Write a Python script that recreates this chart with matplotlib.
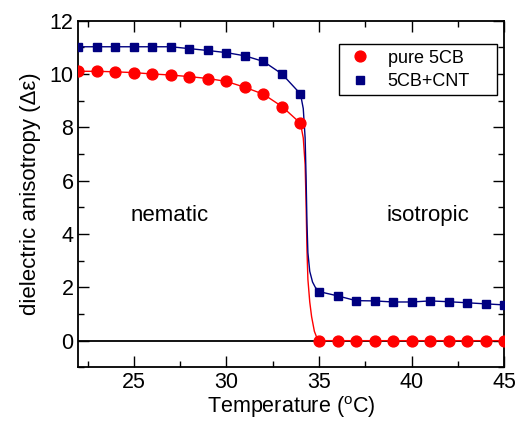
import numpy as np
import matplotlib
matplotlib.use('Agg')
import matplotlib.pyplot as plt

plt.rcParams['font.family'] = ['Liberation Sans', 'DejaVu Sans']
plt.rcParams['mathtext.fontset'] = 'custom'
plt.rcParams['mathtext.rm'] = 'Liberation Sans'

# measured points
temp = [22, 23, 24, 25, 26, 27, 28, 29, 30, 31, 32, 33, 34,
        35, 36, 37, 38, 39, 40, 41, 42, 43, 44, 45]
pure_5cb = [10.1, 10.1, 10.08, 10.05, 10.0, 9.96, 9.9, 9.83, 9.72, 9.5, 9.24, 8.78, 8.15,
            0, 0, 0, 0, 0, 0, 0, 0, 0, 0, 0]
cnt_5cb = [11.02, 11.02, 11.02, 11.02, 11.02, 11.02, 10.95, 10.88, 10.8, 10.68, 10.47, 10.0, 9.25,
           1.84, 1.68, 1.5, 1.49, 1.45, 1.45, 1.49, 1.46, 1.42, 1.38, 1.34]

# fit curve through the transition
fit_t_pure = [34.0, 34.15, 34.25, 34.3, 34.35, 34.4, 34.5, 34.6, 34.75, 34.9, 35.0]
fit_v_pure = [8.15, 7.6, 6.6, 5.2, 3.4, 2.3, 1.45, 0.9, 0.35, 0.08, 0.0]
fit_t_cnt = [34.0, 34.15, 34.25, 34.3, 34.35, 34.4, 34.5, 34.65, 34.8, 35.0]
fit_v_cnt = [9.25, 8.7, 7.6, 6.2, 4.4, 3.3, 2.6, 2.2, 2.0, 1.84]

line_pure_t = temp[:13] + fit_t_pure[1:-1] + temp[13:]
line_pure_v = pure_5cb[:13] + fit_v_pure[1:-1] + pure_5cb[13:]
line_cnt_t = temp[:13] + fit_t_cnt[1:-1] + temp[13:]
line_cnt_v = cnt_5cb[:13] + fit_v_cnt[1:-1] + cnt_5cb[13:]

fig = plt.figure(figsize=(5.15, 4.21), dpi=100)
ax = fig.add_axes([0.152, 0.1275, 0.827, 0.8235])

ax.axhline(0, color='black', lw=1.3, zorder=1)
ax.plot(line_pure_t, line_pure_v, color='red', lw=1.0, zorder=2)
ax.plot(line_cnt_t, line_cnt_v, color='#000080', lw=1.0, zorder=2)
ax.plot(temp, pure_5cb, 'o', color='red', ms=7.8, mec='red', label='pure 5CB', zorder=3)
ax.plot(temp, cnt_5cb, 's', color='#000080', ms=6.4, mec='#000080', label='5CB+CNT', zorder=3)

ax.text(26.95, 4.7, 'nematic', fontsize=16, ha='center', va='center')
ax.text(40.9, 4.7, 'isotropic', fontsize=16, ha='center', va='center')

ax.set_xlim(22, 45)
ax.set_ylim(-1, 12)
ax.set_xticks([25, 30, 35, 40, 45])
ax.set_xticks(np.arange(22.5, 45, 2.5), minor=True)
ax.set_yticks([0, 2, 4, 6, 8, 10, 12])
ax.set_yticks(np.arange(-1, 12, 1), minor=True)
ax.tick_params(which='both', direction='in', top=True, right=True, labelsize=15.5, width=1.0)
ax.tick_params(which='major', length=8)
ax.tick_params(which='minor', length=4.5)
for s in ax.spines.values():
    s.set_linewidth(1.3)

ax.set_xlabel('Temperature ($^{\\rm o}$C)', fontsize=15.5, labelpad=1)
ax.set_ylabel('dielectric anisotropy (Δε)', fontsize=16, labelpad=6)

leg = ax.legend(loc='upper left', bbox_to_anchor=(0.612, 0.6, 0.371, 0.332), mode='expand',
                borderaxespad=0, fontsize=13, fancybox=False, edgecolor='black', framealpha=1,
                handletextpad=0.65, borderpad=0.3, labelspacing=0.35, handlelength=1.75)
leg.get_frame().set_linewidth(1.0)

fig.savefig('out.png', dpi=100)
